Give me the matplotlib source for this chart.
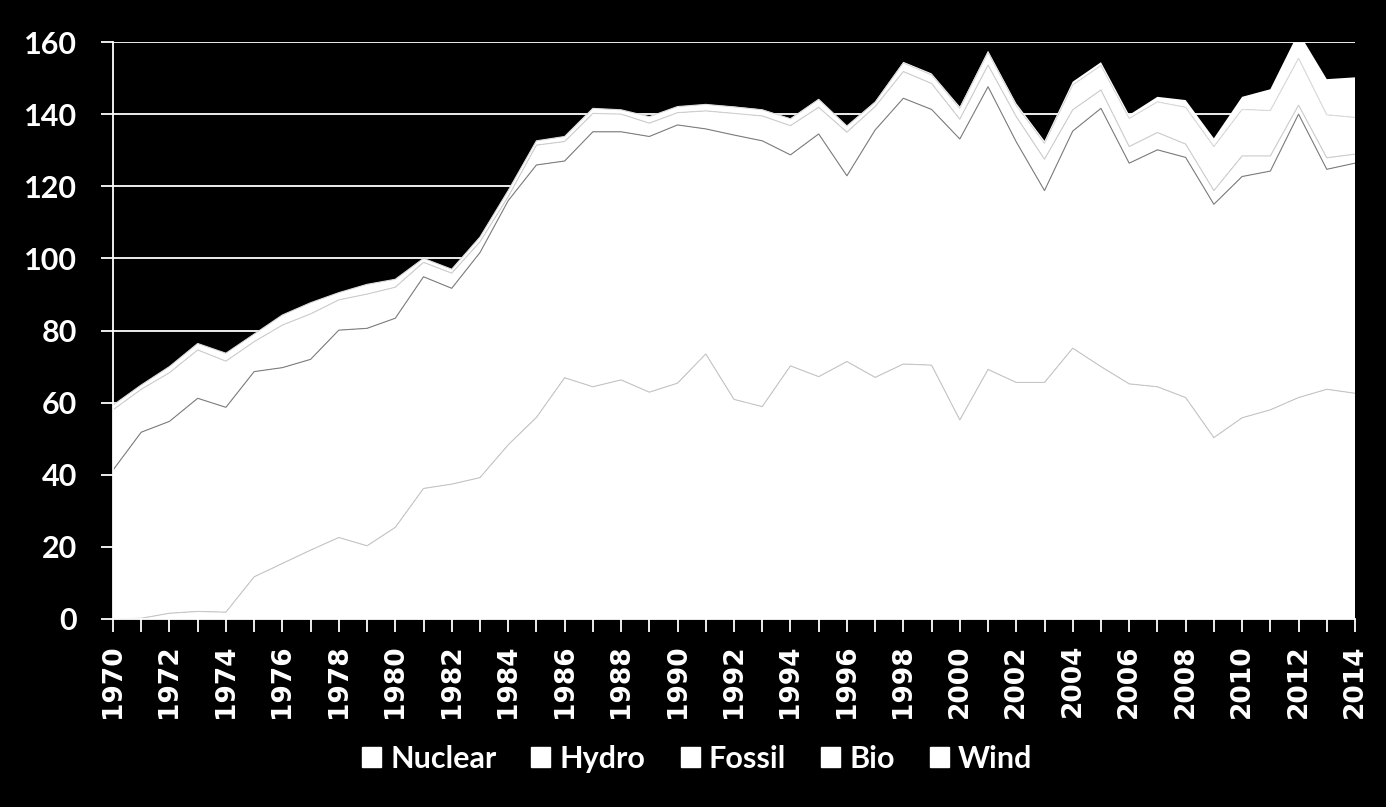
import matplotlib
matplotlib.use("Agg")
import matplotlib.pyplot as plt
import numpy as np
from matplotlib.patches import Patch

years = list(range(1970, 2015))

nuclear = [0.0, 0.2, 1.6, 2.1, 1.9, 11.7, 15.4, 19.1, 22.6, 20.3,
           25.4, 36.2, 37.4, 39.2, 48.3, 55.9, 66.9, 64.4, 66.3, 62.9,
           65.4, 73.5, 60.9, 58.9, 70.2, 67.2, 71.4, 67.0, 70.7, 70.4,
           55.2, 69.2, 65.6, 65.6, 75.1, 70.0, 65.2, 64.4, 61.4, 50.3,
           55.8, 58.0, 61.4, 63.7, 62.6]
hydro = [41.3, 51.6, 53.2, 59.1, 56.8, 56.9, 54.3, 52.9, 57.5, 60.3,
         58.0, 58.7, 54.3, 62.4, 67.7, 70.0, 60.1, 70.7, 68.8, 70.9,
         71.6, 62.4, 73.3, 73.7, 58.5, 67.3, 51.5, 68.6, 73.7, 70.9,
         77.9, 78.4, 66.7, 53.2, 60.2, 71.6, 61.2, 65.7, 66.6, 64.7,
         66.9, 66.2, 78.6, 61.0, 63.8]
fossil = [16.7, 11.9, 13.5, 13.4, 12.8, 8.3, 11.8, 12.6, 8.4, 9.5,
          8.6, 4.0, 4.2, 3.0, 1.1, 5.5, 5.4, 5.1, 4.9, 3.7,
          3.4, 5.0, 6.0, 6.9, 8.1, 7.4, 12.1, 6.5, 7.4, 7.2,
          5.5, 6.0, 7.0, 8.7, 5.9, 5.1, 4.6, 4.8, 3.7, 3.8,
          5.7, 4.2, 2.5, 3.2, 2.5]
bio = [1.3, 1.2, 1.7, 1.8, 2.2, 2.1, 2.8, 3.1, 2.0, 2.7,
       2.2, 1.1, 1.1, 1.3, 1.7, 1.2, 1.4, 1.4, 1.2, 1.8,
       1.7, 1.8, 1.8, 1.7, 1.9, 2.2, 1.7, 1.2, 2.4, 2.4,
       3.0, 3.5, 3.1, 4.4, 6.9, 6.8, 7.8, 8.5, 10.2, 12.2,
       12.9, 12.6, 13.0, 11.9, 10.2]
wind = [0.0, 0.0, 0.0, 0.0, 0.0, 0.0, 0.0, 0.0, 0.0, 0.0,
        0.0, 0.0, 0.0, 0.0, 0.0, 0.0, 0.0, 0.0, 0.0, 0.0,
        0.0, 0.0, 0.1, 0.1, 0.1, 0.1, 0.1, 0.2, 0.3, 0.4,
        0.5, 0.5, 0.6, 0.7, 0.9, 0.9, 1.0, 1.4, 2.0, 2.3,
        3.5, 5.9, 7.2, 9.9, 11.1]

series_names = ["Nuclear", "Hydro", "Fossil", "Bio", "Wind"]
edge_colors = ["#c8c8c8", "#808080", "#d0d0d0", "#dcdcdc", "#ffffff"]

fig = plt.figure(figsize=(13.86, 8.07), dpi=100, facecolor="black")
ax = fig.add_axes([113 / 1386, (807 - 619) / 807, (1355 - 113) / 1386, (619 - 42) / 807])
ax.set_facecolor("black")

data = [nuclear, hydro, fossil, bio, wind]
x = np.array(years)
ax.stackplot(x, *data, colors=["white"] * 5, linewidth=0, zorder=2)
cum = np.cumsum(np.array(data), axis=0)
for i in range(4):
    ax.plot(x, cum[i], color=edge_colors[i], lw=0.8, zorder=3)

ax.set_xlim(1970, 2014)
ax.set_ylim(0, 160)
ax.set_yticks(range(0, 161, 20))
ax.set_xticks(years)
ax.set_xticklabels([str(y) if y % 2 == 0 else "" for y in years])
ax.yaxis.grid(True, color="white", lw=1.3, zorder=1)
ax.set_axisbelow(True)

for s in ["top", "right"]:
    ax.spines[s].set_visible(False)
for s in ["left", "bottom"]:
    ax.spines[s].set_color("white")
    ax.spines[s].set_linewidth(1.3)
    ax.spines[s].set_zorder(4)

ax.tick_params(axis="y", colors="white", length=9, width=1.3, pad=17, labelsize=22)
ax.tick_params(axis="x", colors="white", length=9, width=1.3, pad=9, labelsize=19,
               rotation=90)
for lab in ax.get_yticklabels():
    lab.set_fontfamily("Lato")
    lab.set_fontweight("bold")
for lab in ax.get_xticklabels():
    lab.set_fontfamily("DejaVu Sans")
    lab.set_fontweight("bold")

handles = [Patch(facecolor="white", edgecolor="white") for _ in series_names]
leg = fig.legend(handles, series_names, loc="center", bbox_to_anchor=(0.503, 0.0595),
                 ncol=5, frameon=False, handlelength=0.62, handleheight=0.62,
                 handletextpad=0.3, columnspacing=1.15,
                 prop={"family": "Lato", "weight": "bold", "size": 22})
for t in leg.get_texts():
    t.set_color("white")

fig.savefig("out.png", dpi=100, facecolor="black")
